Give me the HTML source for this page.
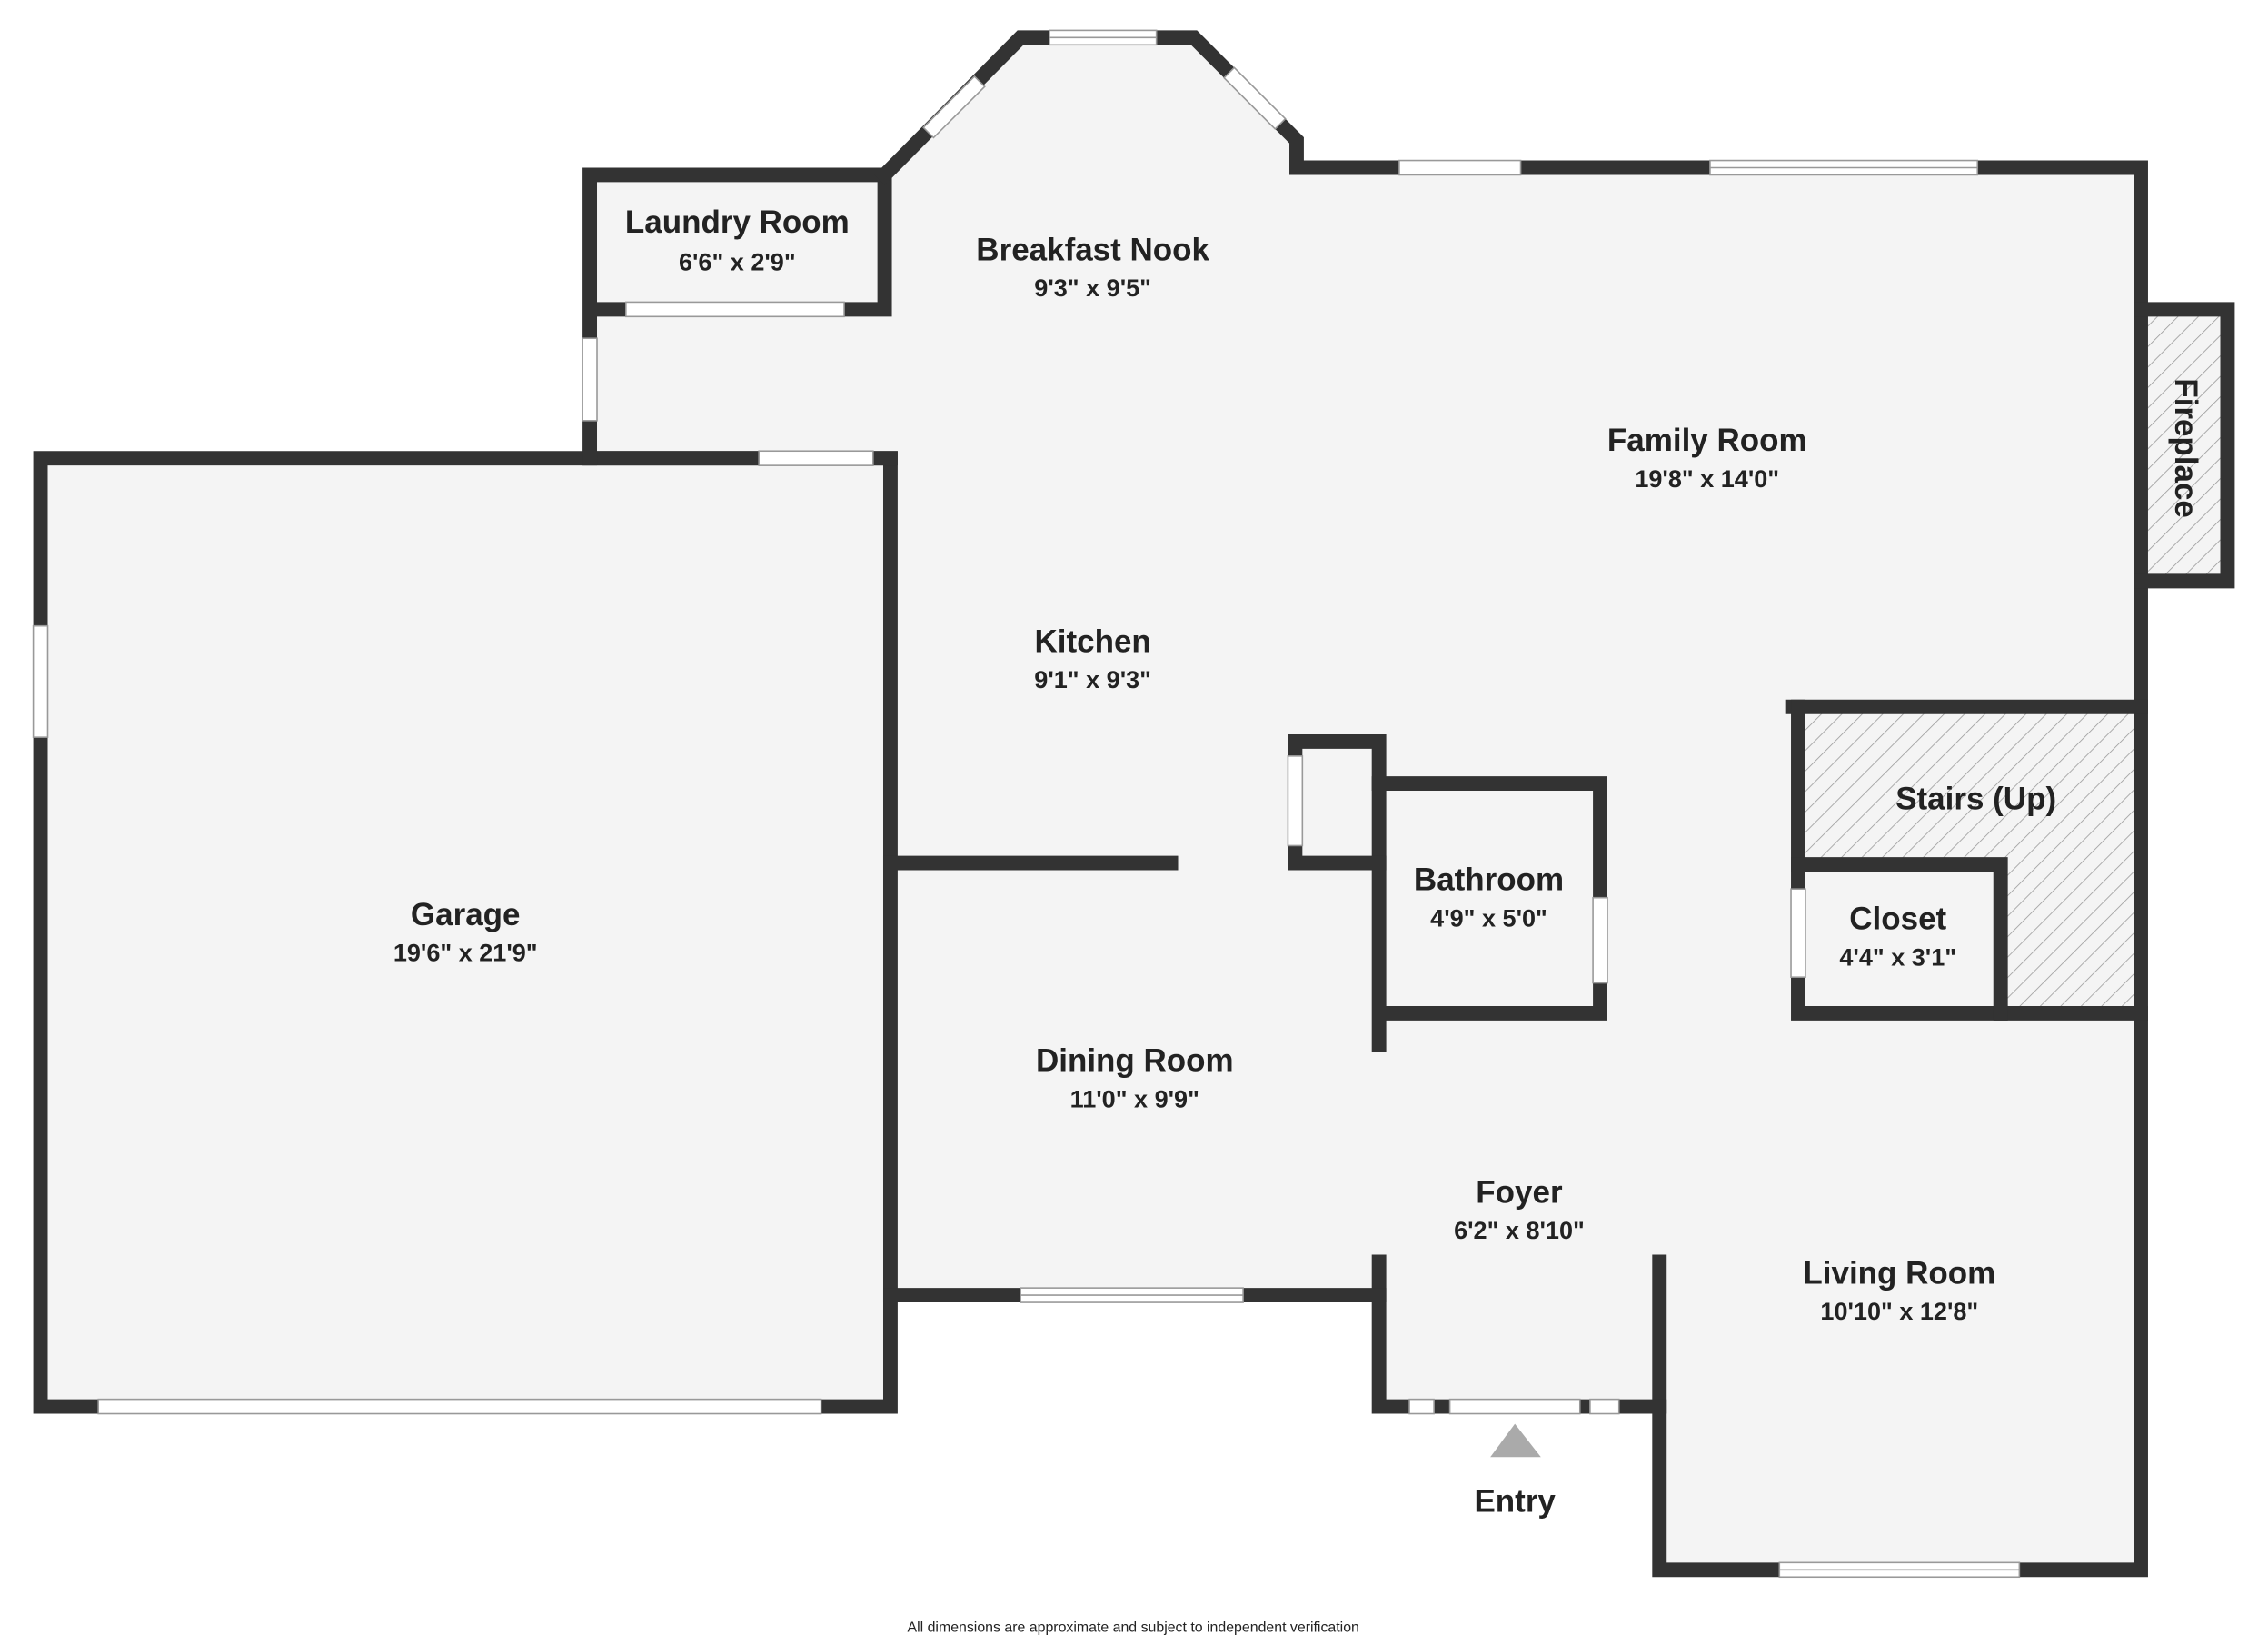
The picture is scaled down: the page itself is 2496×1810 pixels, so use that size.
<!DOCTYPE html>
<html><head><meta charset="utf-8"><style>
html,body{margin:0;padding:0;background:#fff;}
svg{display:block;}
text{font-family:"Liberation Sans",sans-serif;fill:#222;text-anchor:middle;}
.n{font-size:22px;font-weight:bold;}
.d{font-size:17px;font-weight:bold;}
</style></head><body>
<svg width="2496" height="1810" viewBox="0 0 1569 1138" preserveAspectRatio="none" xmlns="http://www.w3.org/2000/svg">
<defs>
<pattern id="h" width="10" height="10" patternUnits="userSpaceOnUse" patternTransform="rotate(45)">
<rect width="10" height="10" fill="#f4f4f4"/><line x1="0" y1="0" x2="0" y2="10" stroke="#999" stroke-width="1"/>
</pattern>
</defs>
<rect width="1569" height="1138" fill="#fff"/>
<rect x="28" y="317" width="588" height="656" fill="#f4f4f4"/>
<polygon points="408,121 612,121 706,26 826,26 897,97 897,116 1481,116 1481,1086 1148,1086 1148,973 954,973 954,896 616,896 616,317 408,317" fill="#f4f4f4"/>
<rect x="1486" y="214" width="55" height="188" fill="url(#h)"/>
<polygon points="1240,489 1481,489 1481,701 1384,701 1384,598 1240,598" fill="url(#h)"/>
<g stroke="#333" stroke-width="10" fill="none" stroke-linecap="square">
<rect x="28" y="317" width="588" height="656"/>
<line x1="408" y1="317" x2="616" y2="317"/>
<polyline points="408,317 408,121 612,121 612,214 408,214"/>
<polyline points="612,121 706,26 826,26 897,97 897,116 1481,116 1481,1086 1148,1086 1148,873"/>
<polyline points="1148,973 954,973 954,873"/>
<polyline points="616,896 954,896"/>
<line x1="616" y1="597" x2="810" y2="597"/>
<polyline points="1481,214 1541,214 1541,402 1481,402"/>
<line x1="1240" y1="489" x2="1481" y2="489"/>
<polyline points="1244,489 1244,701 1481,701"/>
<polyline points="1244,598 1384,598 1384,701"/>
<polyline points="954,723 954,542 1107,542 1107,701 954,701"/>
<polyline points="954,597 896,597 896,513 954,513 954,542"/>
</g>
<g fill="#fff" stroke="#999" stroke-width="1">
<rect x="525" y="312" width="79" height="10"/>
<rect x="23" y="433" width="10" height="77"/>
<rect x="68" y="968" width="500" height="10"/>
<rect x="433" y="209" width="151" height="10"/>
<rect x="403" y="234" width="10" height="57"/>
<rect x="726" y="21" width="74" height="10"/>
<rect x="968" y="111" width="84" height="10"/>
<rect x="1183" y="111" width="185" height="10"/>
<rect x="706" y="891" width="154" height="10"/>
<rect x="1231" y="1081" width="166" height="10"/>
<rect x="1003" y="968" width="90" height="10"/>
<rect x="975" y="968" width="17" height="10"/>
<rect x="1100" y="968" width="20" height="10"/>
<rect x="1102" y="621" width="10" height="59"/>
<rect x="891" y="523" width="10" height="62"/>
<rect x="1239" y="615" width="10" height="61"/>
<rect x="-25" y="-5" width="50" height="10" transform="translate(660,74) rotate(-45)"/>
<rect x="-25" y="-5" width="50" height="10" transform="translate(868,68) rotate(45)"/>
</g>
<g stroke="#999" stroke-width="1">
<line x1="1183" y1="116" x2="1368" y2="116"/>
<line x1="706" y1="896" x2="860" y2="896"/>
<line x1="1231" y1="1086" x2="1397" y2="1086"/>
<line x1="726" y1="26" x2="800" y2="26"/>
</g>
<polygon points="1048,985 1031,1008 1066,1008" fill="#aaa"/>
<text class="n" x="510" y="161">Laundry Room</text><text class="d" x="510" y="187">6'6" x 2'9"</text>
<text class="n" x="756" y="180">Breakfast Nook</text><text class="d" x="756" y="205">9'3" x 9'5"</text>
<text class="n" x="1181" y="312">Family Room</text><text class="d" x="1181" y="337">19'8" x 14'0"</text>
<text class="n" x="756" y="451">Kitchen</text><text class="d" x="756" y="476">9'1" x 9'3"</text>
<text class="n" x="322" y="640">Garage</text><text class="d" x="322" y="665">19'6" x 21'9"</text>
<text class="n" x="1367" y="560">Stairs (Up)</text>
<text class="n" x="1313" y="643">Closet</text><text class="d" x="1313" y="668">4'4" x 3'1"</text>
<text class="n" x="1030" y="616">Bathroom</text><text class="d" x="1030" y="641">4'9" x 5'0"</text>
<text class="n" x="785" y="741">Dining Room</text><text class="d" x="785" y="766">11'0" x 9'9"</text>
<text class="n" x="1051" y="832">Foyer</text><text class="d" x="1051" y="857">6'2" x 8'10"</text>
<text class="n" x="1314" y="888">Living Room</text><text class="d" x="1314" y="913">10'10" x 12'8"</text>
<text class="n" x="1048" y="1046">Entry</text>
<text class="n" transform="translate(1505,310) rotate(90)">Fireplace</text>
<text x="784" y="1129" style="font-size:10px">All dimensions are approximate and subject to independent verification</text>
</svg>
</body></html>
